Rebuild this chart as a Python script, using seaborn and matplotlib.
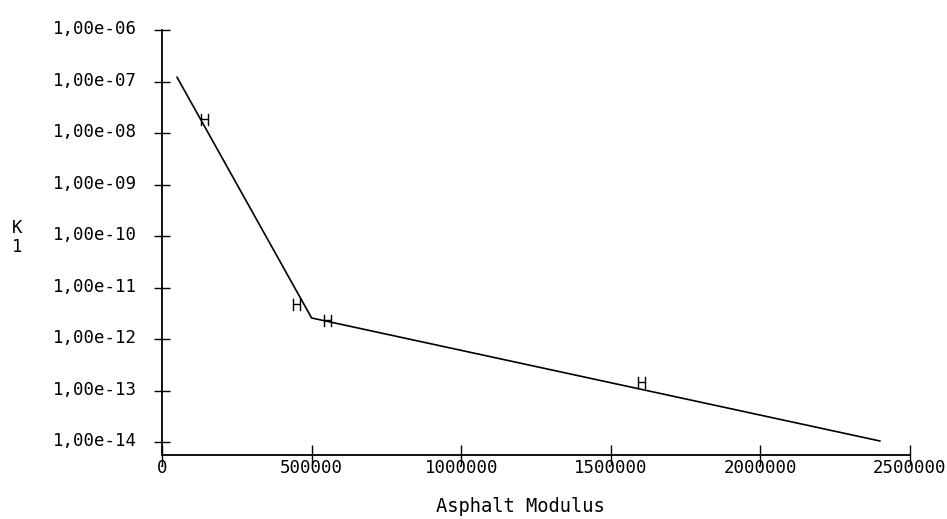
import matplotlib
matplotlib.use("Agg")
import matplotlib.pyplot as plt
import matplotlib.ticker as mticker
import matplotlib.transforms as mtransforms
import seaborn as sns
import pandas as pd

# Fitted line (piecewise)
line_x = [50000, 500000, 2400000]
line_k1 = [1.22e-7, 2.57e-12, 1.05e-14]

# Measured points
pt_x = [143700, 451000, 554800, 1604000]
pt_k1 = [1.79e-8, 4.57e-12, 2.24e-12, 1.41e-13]

x_ticks = [0, 500000, 1000000, 1500000, 2000000, 2500000]
y_ticks = [1e-14, 1e-13, 1e-12, 1e-11, 1e-10, 1e-9, 1e-8, 1e-7, 1e-6]

sns.set_style("white")
plt.rcParams['font.family'] = ['DejaVu Sans Mono', 'DejaVu Sans']
plt.rcParams['text.color'] = 'black'

fig = plt.figure(figsize=(9.47, 5.19), dpi=100)
ax = fig.add_axes([162/947, 1-455/519, (910-162)/947, (455-30)/519])

line_df = pd.DataFrame({"x": line_x, "k1": line_k1})
pt_df = pd.DataFrame({"x": pt_x, "k1": pt_k1})

sns.lineplot(data=line_df, x="x", y="k1", ax=ax, color="black", linewidth=1.2,
             sort=False, estimator=None)
sns.scatterplot(data=pt_df, x="x", y="k1", ax=ax, color="black", marker=r"$\mathrm{H}$",
                s=70, linewidth=0.3, edgecolor="black", zorder=5)

ax.set_yscale("log")
ax.set_xlim(0, 2500000)
ax.set_ylim(10**-14.25, 1e-6)
ax.set_xticks(x_ticks)
ax.set_xticklabels([str(v) for v in x_ticks])
ax.set_yticks(y_ticks)
ax.yaxis.set_major_formatter(mticker.FuncFormatter(lambda v, p: f"{v:.2e}".replace('.', ',')))
ax.yaxis.set_minor_locator(mticker.NullLocator())

for s in ["top", "right"]:
    ax.spines[s].set_visible(False)
for s in ["left", "bottom"]:
    ax.spines[s].set_color("black")
    ax.spines[s].set_linewidth(1.3)

ax.tick_params(axis="y", left=True, direction="inout", length=12, width=1.0, pad=12,
               labelsize=12.5, colors="black")
ax.tick_params(axis="x", bottom=True, direction="inout", length=14, width=1.0, pad=-4,
               labelsize=12.5, colors="black")

# shift y tick labels slightly upward
offset = mtransforms.ScaledTranslation(0, 3/100, fig.dpi_scale_trans)
for lbl in ax.get_yticklabels():
    lbl.set_transform(lbl.get_transform() + offset)

ax.set_xlabel("")
ax.set_ylabel("")
fig.text(17/947, 1-228/519, "K", ha="center", va="center", fontsize=12.5, color="black")
fig.text(17/947, 1-247/519, "1", ha="center", va="center", fontsize=12.5, color="black")
fig.text(520/947, 1-507/519, "Asphalt Modulus", ha="center", va="center", fontsize=13.5,
         color="black")

fig.savefig("out.png", dpi=100, facecolor="white")
